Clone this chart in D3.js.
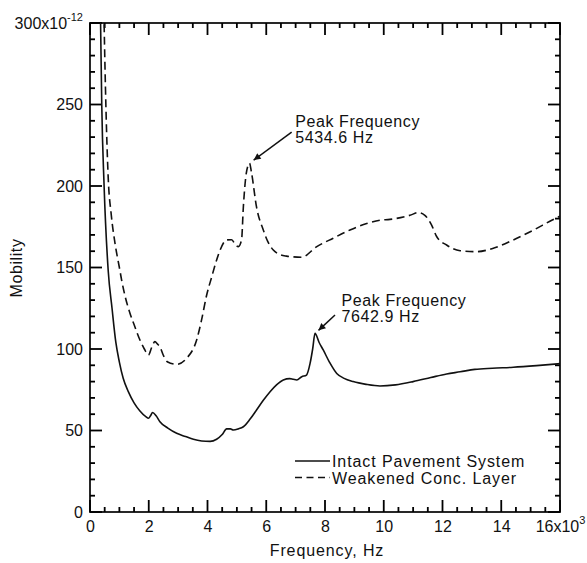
<!DOCTYPE html>
<html><head><meta charset="utf-8">
<script src="https://cdn.jsdelivr.net/npm/d3@7"></script>
<style>
body{margin:0;background:#fff;}
</style></head>
<body><svg id="c" width="587" height="563" font-family="Liberation Sans, Arial, sans-serif"></svg>
<script>
// ---- data (frequency in kHz, mobility in 1e-12 units) ----
const intactFreq = [0.30,0.36,0.40,0.48,0.62,0.75,0.88,1.0,1.13,1.3,1.5,1.7,1.9,1.99,2.06,2.13,2.25,2.38,2.65,2.95,3.25,3.52,3.8,4.09,4.31,4.5,4.65,4.78,4.88,5.05,5.22,5.45,5.67,5.9,6.13,6.35,6.58,6.8,6.92,7.04,7.21,7.37,7.49,7.58,7.66,7.8,7.94,8.15,8.4,8.65,8.96,9.4,9.87,10.4,11.0,11.6,12.14,12.6,13.1,13.7,14.41,15.2,16.0];
const intactMob  = [330,300,250,200,148,125,104,92,82,74,67,62,58.5,57.5,59,61,59,55.4,51.5,48.3,46.3,44.6,43.6,43.3,44.6,47.5,51,51,50.3,51,52.3,57,62.6,68.5,73.8,78,81,81.8,81.4,81,83,84,91,100,109.6,104,99.4,92,85,82,80,78.3,77.3,78,80,82.5,84.7,86,87.5,88.2,88.8,89.8,91];
const weakFreq = [0.45,0.48,0.54,0.62,0.72,0.85,1.0,1.08,1.2,1.36,1.5,1.7,1.85,1.99,2.1,2.21,2.3,2.38,2.5,2.63,2.95,3.29,3.63,3.8,3.97,4.14,4.3,4.43,4.65,4.82,4.95,5.05,5.16,5.22,5.3,5.39,5.43,5.5,5.67,5.9,6.05,6.24,6.45,6.69,7.2,7.72,8.28,8.85,9.42,9.87,10.21,10.89,11.18,11.4,11.63,11.8,12.14,12.6,13.16,13.73,14.41,15.1,15.72,16.0];
const weakMob  = [330,300,250,205,183,165,150,142,132,122,115,105.5,100,96.3,101,104.5,103,101.4,96,92.2,90.6,94.3,105.5,118,133,144,154,160.7,166.9,167,164,162.8,167,187,205,213,214,208,187,173,166,160.7,158,157,156.3,162.8,168,173,177,179,179.5,182,183.7,182,176,169,163.8,160.3,159.7,161.8,166.9,173,179,181.5];
const xTicks = [0,2,4,6,8,10,12,14,16];
const yTicks = [0,50,100,150,200,250,300];
const peaks = [
  {f:5.4346, v:214, label:"5434.6 Hz"},
  {f:7.6429, v:109.6, label:"7642.9 Hz"}
];
const legendLabels = ["Intact Pavement System","Weakened Conc. Layer"];

// ---- layout ----
const svg = d3.select("#c");
const L=90, R=560, T=23, B=512;
const x = d3.scaleLinear().domain([0,16]).range([L,R]);
const y = d3.scaleLinear().domain([0,300]).range([B,T]);
const fs = 16;
const ink = "#111";

const minorX = d3.range(1,32).map(i=>i*0.5).filter(d=>d%2!==0);
const minorY = d3.range(1,30).map(i=>i*10).filter(d=>d%50!==0);

// frame
svg.append("rect").attr("x",L).attr("y",T).attr("width",R-L).attr("height",B-T)
  .attr("fill","none").attr("stroke",ink).attr("stroke-width",1.8);

// inward tick marks as small filled rects, all four sides
const xt = xTicks.map(v=>({v,len:12})).concat(minorX.map(v=>({v,len:5})));
const yt = yTicks.map(v=>({v,len:12})).concat(minorY.map(v=>({v,len:5})));
const gt = svg.append("g").attr("fill","#000");
gt.selectAll("rect.xb").data(xt).join("rect").attr("class","xb")
  .attr("x",d=>x(d.v)-0.9).attr("y",d=>B-d.len).attr("width",1.8).attr("height",d=>d.len);
gt.selectAll("rect.xt").data(xt).join("rect").attr("class","xt")
  .attr("x",d=>x(d.v)-0.9).attr("y",T).attr("width",1.8).attr("height",d=>d.len);
gt.selectAll("rect.yl").data(yt).join("rect").attr("class","yl")
  .attr("x",L).attr("y",d=>y(d.v)-0.9).attr("width",d=>d.len).attr("height",1.8);
gt.selectAll("rect.yr").data(yt).join("rect").attr("class","yr")
  .attr("x",d=>R-d.len).attr("y",d=>y(d.v)-0.9).attr("width",d=>d.len).attr("height",1.8);

// curves (clipped to plot area)
const defs = svg.append("defs");
defs.append("clipPath").attr("id","plotclip").append("rect")
  .attr("x",L).attr("y",T).attr("width",R-L).attr("height",B-T);
const line = d3.line().x(d=>x(d[0])).y(d=>y(d[1])).curve(d3.curveMonotoneX);
const gC = svg.append("g").attr("clip-path","url(#plotclip)");
gC.append("path").datum(d3.zip(intactFreq,intactMob)).attr("d",line)
  .attr("fill","none").attr("stroke",ink).attr("stroke-width",1.6);
gC.append("path").datum(d3.zip(weakFreq,weakMob)).attr("d",line)
  .attr("fill","none").attr("stroke",ink).attr("stroke-width",1.6).attr("stroke-dasharray","8,4.5");

// annotations
defs.append("marker").attr("id","ah").attr("viewBox","0 0 10 10")
  .attr("refX",10).attr("refY",5).attr("markerWidth",9).attr("markerHeight",7)
  .attr("markerUnits","userSpaceOnUse").attr("orient","auto")
  .append("path").attr("d","M0,0L10,5L0,10z").attr("fill",ink);
const annOff = [{tail:[42,-31], tx:45.5, ty:-36}, {tail:[20.5,-18.4], tx:27, ty:-27}];
peaks.forEach((p,i)=>{
  const px=x(p.f), py=y(p.v), o=annOff[i];
  svg.append("line").attr("x1",px+o.tail[0]).attr("y1",py+o.tail[1]).attr("x2",px+4).attr("y2",py-3)
    .attr("stroke",ink).attr("stroke-width",1.5).attr("marker-end","url(#ah)");
  const t = svg.append("text").attr("x",px+o.tx).attr("y",py+o.ty).attr("font-size",fs).attr("letter-spacing",0.6).attr("fill",ink);
  t.append("tspan").text("Peak Frequency");
  t.append("tspan").attr("x",px+o.tx).attr("dy",16).text(p.label);
});

// legend
const lg = svg.append("g").attr("transform","translate(295,461)");
legendLabels.forEach((lab,i)=>{
  lg.append("line").attr("x1",0).attr("x2",35).attr("y1",i*16.5).attr("y2",i*16.5)
    .attr("stroke",ink).attr("stroke-width",1.4).attr("stroke-dasharray", i? "7,4.5":null);
  lg.append("text").attr("x",37).attr("y",i*16.5+6).attr("font-size",fs).attr("letter-spacing",0.9).attr("fill",ink).text(lab);
});

// axis titles
svg.append("text").attr("x",327).attr("y",556).attr("text-anchor","middle").attr("font-size",fs).attr("letter-spacing",0.9).attr("fill",ink).text("Frequency, Hz");
svg.append("text").attr("transform","translate(22,268) rotate(-90)").attr("text-anchor","middle").attr("font-size",fs).attr("letter-spacing",0.6).attr("fill",ink).text("Mobility");

// tick labels via d3 axes
function styleAxis(g){ g.select(".domain").remove(); g.selectAll("line").remove();
  g.selectAll("text").attr("font-size",fs).attr("fill",ink); }
const xb = svg.append("g").attr("transform",`translate(0,${B})`)
  .call(d3.axisBottom(x).tickValues(xTicks).tickSize(0).tickPadding(9)
    .tickFormat(d=> d===16 ? "16x10" : d));
styleAxis(xb);
xb.selectAll("text").filter(d=>d===16).append("tspan").attr("dy",-8).attr("font-size",11).text("3");
const yl = svg.append("g").attr("transform",`translate(${L},0)`)
  .call(d3.axisLeft(y).tickValues(yTicks).tickSize(0).tickPadding(7)
    .tickFormat(d=> d===300 ? "300x10" : d));
styleAxis(yl);
yl.selectAll("text").filter(d=>d===300).append("tspan").attr("dy",-8).attr("font-size",11).text("-12");
</script></body></html>
